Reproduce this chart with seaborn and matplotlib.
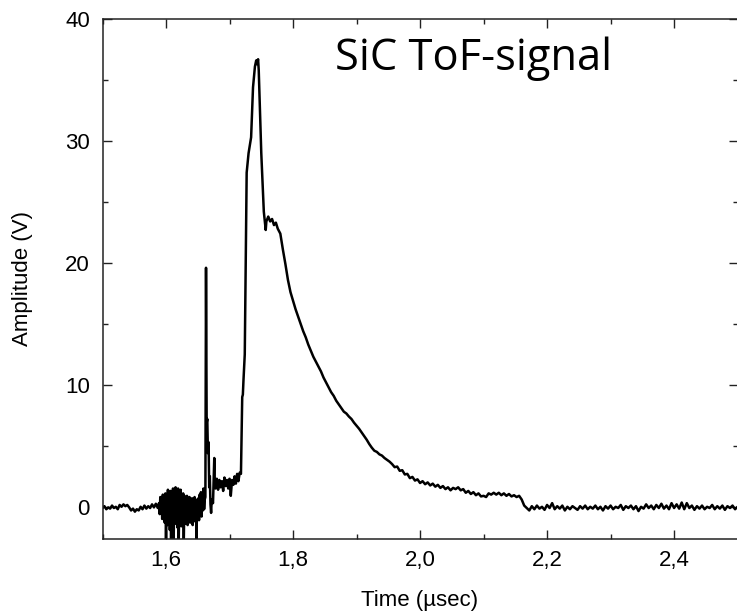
import numpy as np
import pandas as pd
import matplotlib
matplotlib.use("Agg")
import matplotlib.pyplot as plt
from matplotlib.ticker import MultipleLocator, FixedLocator, FixedFormatter
import seaborn as sns

# ---------------- data (time in ns, amplitude in V) ----------------
pretrigger_t = [1500, 1503, 1506, 1509, 1512, 1515, 1518, 1521, 1524, 1527,
                1530, 1533, 1536, 1539, 1542, 1545, 1548, 1551, 1554, 1557,
                1560, 1563, 1566, 1569, 1572, 1575, 1578, 1581, 1584, 1587]
pretrigger_v = [-0.1, 0.05, -0.2, -0.05, -0.15, 0.1, -0.1, 0.0, -0.2, 0.15,
                0.0, 0.2, 0.05, 0.15, -0.05, -0.3, -0.15, -0.4, -0.2, -0.3,
                0.0, -0.2, 0.1, -0.15, 0.05, -0.1, 0.2, -0.05, 0.25, -0.1]

ringing_t = [1589, 1590, 1591, 1592, 1593, 1594, 1595, 1596, 1597, 1598,
             1599, 1600, 1601, 1602, 1603, 1604, 1605, 1606, 1607, 1608,
             1609, 1610, 1611, 1612, 1613, 1614, 1615, 1616, 1617, 1618,
             1619, 1620, 1621, 1622, 1623, 1624, 1625, 1626, 1627, 1628,
             1629, 1630, 1631, 1632, 1633, 1634, 1635, 1636, 1637, 1638,
             1639, 1640, 1641, 1642, 1643, 1644, 1645, 1646, 1647, 1648,
             1649, 1650, 1651, 1652, 1653, 1654, 1655, 1656, 1657, 1658,
             1659, 1660, 1661]
ringing_v = [0.3, -0.6, 0.8, -0.4, 0.5, -1.0, 1.0, -0.7, 0.4, -1.3,
             1.1, -2.9, 0.6, -1.5, 1.4, -0.8, 1.0, -1.9, 1.3, -3.0,
             0.9, -1.2, 1.5, -2.9, 0.7, -1.4, 1.6, -1.0, 1.2, -1.7,
             1.5, -3.0, 0.8, -1.2, 1.4, -1.6, 0.6, -0.9, 1.1, -2.8,
             0.9, -1.4, 0.7, -0.9, 0.9, -1.5, 0.5, -1.1, 0.8, -1.3,
             0.6, -0.8, 0.7, -1.5, 0.4, -1.0, 0.8, -1.2, 0.5, -2.8,
             0.6, -0.9, 0.7, -1.1, 1.0, -0.5, 1.2, -0.8, 0.9, -0.3,
             1.5, -0.2, 0.6]

spike_t = [1662, 1663, 1664, 1665, 1666, 1667, 1668, 1669, 1670, 1671,
           1672, 1674, 1676, 1677]
spike_v = [0.8, 19.6, 6.9, 7.2, 4.4, 5.3, 1.6, 2.5, 0.2, -0.5,
           0.6, 0.3, 4.0, 1.6]

plateau_t = [1678, 1680, 1682, 1684, 1686, 1688, 1690, 1692, 1694, 1696,
             1698, 1700, 1702, 1704, 1706, 1708, 1710, 1712, 1714, 1716]
plateau_v = [1.5, 2.3, 1.4, 2.2, 1.6, 2.1, 1.3, 2.4, 1.7, 2.2,
             1.5, 2.3, 0.9, 2.2, 1.8, 2.5, 1.9, 2.7, 2.1, 2.8]

pulse_t = [1718, 1720, 1721, 1722, 1724, 1727, 1730, 1734, 1737, 1740,
           1742, 1743, 1745, 1746, 1750, 1752, 1754, 1757, 1758, 1761,
           1764, 1767, 1770, 1773, 1776]
pulse_v = [2.7, 9.0, 9.2, 10.4, 12.5, 27.4, 29.0, 30.3, 34.4, 36.1,
           36.6, 36.3, 36.7, 35.8, 29.0, 26.6, 24.2, 22.7, 23.4, 23.8,
           23.4, 23.6, 23.1, 23.3, 22.8]

decay_t = [1780, 1784, 1788, 1792, 1796, 1800, 1804, 1808, 1812, 1816,
           1820, 1824, 1828, 1832, 1836, 1840, 1844, 1848, 1852, 1856,
           1860, 1864, 1868, 1872, 1876, 1880, 1884, 1888, 1892, 1896,
           1900, 1904, 1908, 1912, 1916, 1920, 1924, 1928, 1932, 1936,
           1940, 1944, 1948, 1952, 1956, 1960, 1964, 1968, 1972, 1976,
           1980, 1984, 1988, 1992, 1996, 2000, 2004, 2008, 2012, 2016,
           2020, 2024, 2028, 2032, 2036, 2040, 2044, 2048, 2052, 2056,
           2060, 2064, 2068, 2072, 2076, 2080, 2084, 2088, 2092, 2096,
           2100, 2104, 2108, 2112, 2116, 2120, 2124, 2128, 2132, 2136,
           2140, 2144, 2148, 2152, 2156, 2160, 2164, 2168]
decay_v = [22.4, 21.1, 19.9, 18.6, 17.6, 16.9, 16.2, 15.6, 15.0, 14.4,
           13.9, 13.3, 12.8, 12.3, 11.9, 11.5, 11.1, 10.6, 10.2, 9.8,
           9.4, 9.1, 8.7, 8.4, 8.1, 7.8, 7.65, 7.4, 7.2, 6.9,
           6.65, 6.4, 6.1, 5.8, 5.5, 5.15, 4.85, 4.6, 4.5, 4.3,
           4.2, 4.0, 3.85, 3.7, 3.5, 3.25, 3.3, 2.95, 3.0, 2.65,
           2.7, 2.35, 2.45, 2.15, 2.25, 1.95, 2.1, 1.85, 2.0, 1.75,
           1.9, 1.65, 1.8, 1.55, 1.7, 1.45, 1.6, 1.35, 1.55, 1.45,
           1.6, 1.35, 1.45, 1.15, 1.3, 1.05, 1.2, 0.95, 1.1, 0.85,
           0.9, 0.8, 1.1, 1.0, 1.15, 1.0, 1.15, 0.95, 1.1, 0.9,
           1.05, 0.85, 0.95, 0.8, 0.9, 0.6, 0.1, -0.1]

tail_t = [2172, 2176, 2180, 2184, 2188, 2192, 2196, 2200, 2204, 2208,
          2212, 2216, 2220, 2224, 2228, 2232, 2236, 2240, 2244, 2248,
          2252, 2256, 2260, 2264, 2268, 2272, 2276, 2280, 2284, 2288,
          2292, 2296, 2300, 2304, 2308, 2312, 2316, 2320, 2324, 2328,
          2332, 2336, 2340, 2344, 2348, 2352, 2356, 2360, 2364, 2368,
          2372, 2376, 2380, 2384, 2388, 2392, 2396, 2400, 2404, 2408,
          2412, 2416, 2420, 2424, 2428, 2432, 2436, 2440, 2444, 2448,
          2452, 2456, 2460, 2464, 2468, 2472, 2476, 2480, 2484, 2488,
          2492, 2496, 2500]
tail_v = [-0.3, 0.05, -0.2, 0.1, -0.15, 0.0, -0.25, 0.15, -0.1, 0.3,
          -0.2, 0.05, -0.15, 0.1, -0.3, 0.0, -0.2, 0.05, -0.1, -0.25,
          0.05, -0.15, 0.1, -0.2, 0.0, -0.15, 0.1, -0.2, 0.0, -0.3,
          0.05, -0.15, 0.1, -0.2, 0.0, -0.1, 0.15, -0.25, 0.05, -0.1,
          0.1, -0.2, 0.05, -0.35, 0.0, -0.15, 0.2, -0.1, 0.1, -0.2,
          0.15, -0.1, 0.25, -0.15, 0.1, -0.2, 0.3, -0.1, 0.2, -0.15,
          0.35, -0.2, 0.3, -0.1, 0.1, -0.25, 0.05, -0.15, 0.1, -0.2,
          0.0, -0.1, 0.15, -0.2, 0.05, -0.15, 0.1, -0.25, 0.05, -0.1,
          0.1, -0.2, 0.0]

x_ticks = [1.6, 1.8, 2.0, 2.2, 2.4]
x_tick_labels = ["1,6", "1,8", "2,0", "2,2", "2,4"]
y_ticks = [0, 10, 20, 30, 40]
y_tick_labels = ["0", "10", "20", "30", "40"]
x_label = "Time (\u00b5sec)"
y_label = "Amplitude (V)"
annotation = "SiC ToF-signal"

# ---------------- build table ----------------
segments = [(pretrigger_t, pretrigger_v), (ringing_t, ringing_v),
            (spike_t, spike_v), (plateau_t, plateau_v),
            (pulse_t, pulse_v), (decay_t, decay_v), (tail_t, tail_v)]
time_ns = np.concatenate([np.asarray(t, float) for t, _ in segments])
amp = np.concatenate([np.asarray(v, float) for _, v in segments])
df = pd.DataFrame({"time_us": time_ns / 1000.0, "amplitude": amp})

# ---------------- plot ----------------
sns.set_theme(style="ticks")
plt.rcParams["font.family"] = ["Liberation Sans", "DejaVu Sans"]

W, H = 737, 615
fig = plt.figure(figsize=(W / 100, H / 100), dpi=100)
left, right, top, bottom = 102.5, 737.6, 19.0, 538.5
ax = fig.add_axes([left / W, 1 - bottom / H, (right - left) / W, (bottom - top) / H])

sns.lineplot(data=df, x="time_us", y="amplitude", ax=ax, estimator=None,
             sort=False, color="black", linewidth=1.8)

ax.set_xlim(1.5, 2.5)
ax.set_ylim(-2.6, 40)

ax.xaxis.set_major_locator(FixedLocator(x_ticks))
ax.xaxis.set_major_formatter(FixedFormatter(x_tick_labels))
ax.xaxis.set_minor_locator(MultipleLocator(0.1))
ax.yaxis.set_major_locator(FixedLocator(y_ticks))
ax.yaxis.set_major_formatter(FixedFormatter(y_tick_labels))
ax.yaxis.set_minor_locator(MultipleLocator(5))

ax.tick_params(which="both", direction="in", top=True, right=True,
               colors="#222222", width=1.0)
ax.tick_params(which="major", length=6.5, labelsize=16, pad=9,
               labelcolor="black")
ax.tick_params(axis="x", which="major", pad=8)
ax.tick_params(which="minor", length=3.5)
for s in ax.spines.values():
    s.set_linewidth(1.1)
    s.set_color("#222222")

ax.set_xlabel(x_label, fontsize=16, color="black")
ax.set_ylabel(y_label, fontsize=16, color="black")
ax.xaxis.set_label_coords(0.5, -0.099)
ax.yaxis.set_label_coords(-0.109, 0.5)

txt = ax.text(0.584, 0.902, annotation, transform=ax.transAxes,
              ha="center", va="baseline", fontsize=30,
              family=["Open Sans", "DejaVu Sans"], color="black")
fig.canvas.draw()
w = txt.get_window_extent(fig.canvas.get_renderer()).width
txt.set_fontsize(30 * 277.0 / w)

fig.savefig("out.png", dpi=100)
